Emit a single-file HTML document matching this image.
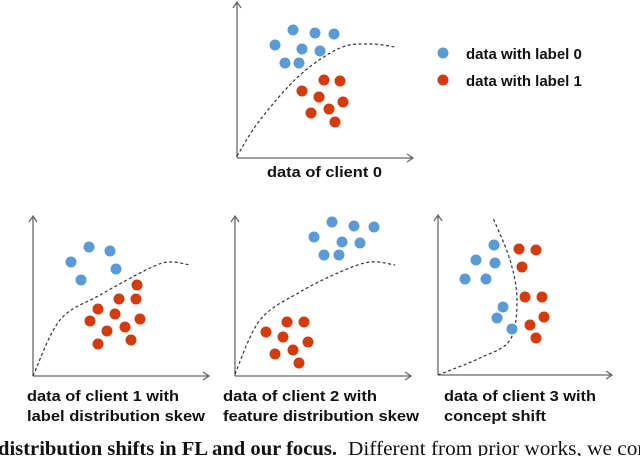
<!DOCTYPE html>
<html><head><meta charset="utf-8"><style>
html,body{margin:0;padding:0;background:#fff;width:640px;height:456px;overflow:hidden}
text{font-family:"Liberation Sans",sans-serif}
text.serif{font-family:"Liberation Serif",serif}
</style></head><body>
<svg id="fig" width="640" height="456" viewBox="0 0 640 456" xmlns="http://www.w3.org/2000/svg">
<g id="legend">
<circle cx="443" cy="53" r="5.5" fill="#5b9bd5"/>
<text x="466" y="59" font-size="15" font-weight="bold" fill="#111">data with label 0</text>
<circle cx="443" cy="80" r="5.5" fill="#d33a0c"/>
<text x="466" y="86" font-size="15" font-weight="bold" fill="#111">data with label 1</text>
</g>
<text class="serif" x="-2" y="455" font-size="20" font-weight="bold" fill="#111" textLength="339" lengthAdjust="spacingAndGlyphs">distribution shifts in FL and our focus.</text>
<text class="serif" x="348" y="455" font-size="20" fill="#111" textLength="300" lengthAdjust="spacingAndGlyphs">Different from prior works, we con</text>
</svg>
<script>
// panel data (units relative to panel origin)
const blue0=[[56,128],[78,125],[97,124],[38,113],[65,109],[83,107],[48,95],[62,95]];
const red0=[[87,78],[103,77],[65,67],[82,61],[106,56],[74,45],[92,49],[98,36]];
const curve0=[[0,2],[23,38],[63,83],[103,110],[133,114],[158,111]];
const blue1=[[56,129],[77,125],[38,114],[83,107],[48,96]];
const red1=[[104,91],[86,77],[103,77],[65,67],[82,62],[107,57],[57,55],[74,45],[92,49],[98,36],[65,32]];
const curve1=[[0,0],[27,56],[67,81],[117,108],[137,114],[157,111]];
const blue2=[[97,154],[119,150],[139,149],[79,139],[107,134],[125,133],[89,121],[104,121]];
const red2=[[52,54],[69,54],[31,44],[48,39],[73,34],[58,26],[40,22],[64,13]];
const curve2=[[0,2],[25,56],[65,84],[105,104],[135,114],[160,111]];
const blue3=[[56,130],[38,115],[57,112],[27,96],[48,96],[65,68],[59,57],[74,46]];
const red3=[[81,126],[98,125],[84,108],[87,78],[104,78],[106,58],[92,50],[98,37]];
const curve3=[[0,0],[42,17],[72,35],[79,75],[72,115],[55,157]];
const labels0=["data of client 0"];
const labels1=["data of client 1 with","label distribution skew"];
const labels2=["data of client 2 with","feature distribution skew"];
const labels3=["data of client 3 with","concept shift"];

const NS="http://www.w3.org/2000/svg";
const svg=document.getElementById('fig');
function mk(t,a,p){const e=document.createElementNS(NS,t);for(const k in a)e.setAttribute(k,a[k]);(p||svg).appendChild(e);return e;}
const panels=[
 {id:0,ox:237,oy:158,xl:176,yt:156,blue:blue0,red:red0,curve:curve0,labels:labels0,lx:267,ly:177,lw:[115]},
 {id:1,ox:33,oy:376,xl:176,yt:160,blue:blue1,red:red1,curve:curve1,labels:labels1,lx:27,ly:401,lw:[152,178]},
 {id:2,ox:235,oy:376,xl:176,yt:160,blue:blue2,red:red2,curve:curve2,labels:labels2,lx:223,ly:401,lw:[154,196]},
 {id:3,ox:438,oy:375,xl:174,yt:160,blue:blue3,red:red3,curve:curve3,labels:labels3,lx:444,ly:401,lw:[152,102]}
];
panels.forEach(p=>{
 const g=mk('g',{});
 
 
 const sx=v=>p.ox+v, sy=v=>p.oy-v;
 const ax=mk('path',{d:`M${p.ox},${p.oy}H${p.ox+p.xl}M${p.ox+p.xl-6},${p.oy-4}L${p.ox+p.xl},${p.oy}L${p.ox+p.xl-6},${p.oy+4}`,stroke:'#666','stroke-width':1.3,fill:'none'},g);
 
 
 const ay=mk('path',{d:`M${p.ox},${p.oy}V${p.oy-p.yt}M${p.ox-4},${p.oy-p.yt+6}L${p.ox},${p.oy-p.yt}L${p.ox+4},${p.oy-p.yt+6}`,stroke:'#666','stroke-width':1.3,fill:'none'},g);
 
 
 const pts=p.curve.map(c=>[sx(c[0]),sy(c[1])]);
 let d=`M${pts[0][0]},${pts[0][1]}`;
 for(let i=0;i<pts.length-1;i++){
  const p0=pts[Math.max(0,i-1)],p1=pts[i],p2=pts[i+1],p3=pts[Math.min(pts.length-1,i+2)];
  d+=`C${p1[0]+(p2[0]-p0[0])/6},${p1[1]+(p2[1]-p0[1])/6} ${p2[0]-(p3[0]-p1[0])/6},${p2[1]-(p3[1]-p1[1])/6} ${p2[0]},${p2[1]}`;
 }
 const cv=mk('path',{d:d,stroke:'#333','stroke-width':1.2,'stroke-dasharray':'3,2.5',fill:'none'},g);
 
 
 p.blue.forEach(b=>{const c=mk('circle',{cx:sx(b[0]),cy:sy(b[1]),r:5.5,fill:'#5b9bd5'},g);
  
  });
 p.red.forEach(b=>{const c=mk('circle',{cx:sx(b[0]),cy:sy(b[1]),r:5.5,fill:'#d33a0c'},g);
  
  });
 p.labels.forEach((t,i)=>{const e=mk('text',{x:p.lx,y:p.ly+i*20,'font-size':15,'font-weight':'bold',fill:'#111',textLength:p.lw[i],lengthAdjust:'spacingAndGlyphs'},g);
  e.textContent=t;
  
  });
});
</script>
</body></html>
